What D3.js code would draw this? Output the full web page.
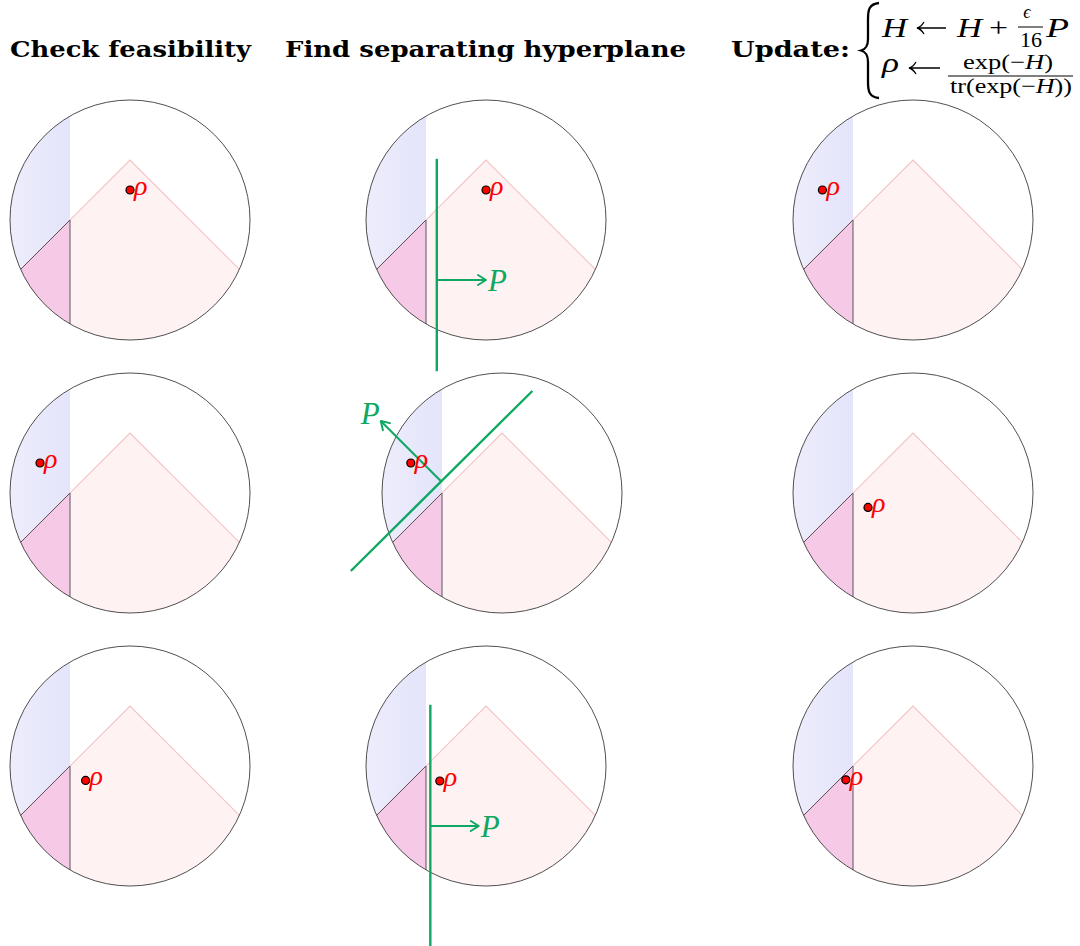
<!DOCTYPE html>
<html>
<head>
<meta charset="utf-8">
<script src="https://cdn.jsdelivr.net/npm/d3@7"></script>
<style>
  html, body { margin: 0; padding: 0; background: #fff; }
  svg { display: block; }
</style>
</head>
<body>
<svg id="chart" width="1080" height="946"></svg>
<script>
// ---------------- DATA ----------------
const titles = ["Check feasibility", "Find separating hyperplane", "Update:"];
// rho position in each panel (unit-disk coordinates), rows x columns
const rhoX = [[0.0, 0.0, -0.755], [-0.75, -0.76, -0.375], [-0.37, -0.385, -0.56]];
const rhoY = [[0.25, 0.25, 0.25], [0.25, 0.25, -0.12], [-0.12, -0.125, -0.115]];
// feasible regions
const blueEdgeX = -0.5;     // blue region: x < -0.5
const coneApexY = 0.5;      // cone: y < 0.5 - |x|
// separating hyperplanes (row, col, line ends, arrow foot & tip, label side)
const hyperplanes = [
  { row: 0, col: 1, from: [-0.41, 0.51], to: [-0.41, -1.26], foot: [-0.41, -0.5], tip: [0.0, -0.5], side: "right" },
  { row: 1, col: 1, from: [-1.26, -0.65], to: [0.253, 0.85], foot: [-0.51, 0.10], tip: [-1.01, 0.60], side: "aboveleft" },
  { row: 2, col: 1, from: [-0.464, 0.51], to: [-0.464, -1.5], foot: [-0.464, -0.5], tip: [-0.06, -0.5], side: "right" }
];

// ---------------- LAYOUT ----------------
const R = 120;
const panelCx = [[130, 486, 913], [130, 502, 913], [130, 486, 913]];
const rowCy = [220, 493, 766];
const green = "#0fa862";
const serif = "'Liberation Serif', 'Times New Roman', serif";

const svg = d3.select("#chart");
const defs = svg.append("defs");
const grad = defs.append("linearGradient").attr("id", "blueGrad")
  .attr("x1", 0).attr("x2", 1).attr("y1", 0).attr("y2", 0);
grad.append("stop").attr("offset", 0).attr("stop-color", "#ededfc");
grad.append("stop").attr("offset", 1).attr("stop-color", "#e4e4fb");

const line = d3.line();

for (let r = 0; r < 3; r++) {
  for (let c = 0; c < 3; c++) {
    const cx = panelCx[r][c], cy = rowCy[r];
    const x = d3.scaleLinear().domain([-1, 1]).range([cx - R, cx + R]);
    const y = d3.scaleLinear().domain([-1, 1]).range([cy + R, cy - R]);
    const P = p => [x(p[0]), y(p[1])];
    const id = `clip${r}${c}`;
    defs.append("clipPath").attr("id", id)
      .append("circle").attr("cx", x(0)).attr("cy", y(0)).attr("r", x(1) - x(0));

    const g = svg.append("g");
    const gc = g.append("g").attr("clip-path", `url(#${id})`);

    // blue region
    gc.append("rect")
      .attr("x", x(-1)).attr("y", y(1))
      .attr("width", x(blueEdgeX) - x(-1)).attr("height", y(-1) - y(1))
      .attr("fill", "url(#blueGrad)");
    // cone region
    const apex = [0, coneApexY];
    const coneL = [-2, coneApexY - 2], coneR = [2, coneApexY - 2];
    gc.append("path").attr("d", line([apex, coneL, coneR].map(P)) + "Z")
      .attr("fill", "#fff2f3");
    // intersection
    const corner = [blueEdgeX, coneApexY + blueEdgeX];
    gc.append("path").attr("d", line([corner, coneL, [blueEdgeX, coneApexY - 2]].map(P)) + "Z")
      .attr("fill", "#f6cae6");
    // cone edges
    gc.append("path").attr("d", line([coneL, apex, coneR].map(P)))
      .attr("fill", "none").attr("stroke", "#f4c2c2").attr("stroke-width", 1.1);
    gc.append("path").attr("d", line([coneL, corner, [blueEdgeX, -2]].map(P)))
      .attr("fill", "none").attr("stroke", "#5b5360").attr("stroke-width", 1);

    // circle outline
    g.append("circle").attr("cx", x(0)).attr("cy", y(0)).attr("r", x(1) - x(0))
      .attr("fill", "none").attr("stroke", "#3c3c3c").attr("stroke-width", 0.9);

    // hyperplane
    hyperplanes.filter(h => h.row === r && h.col === c).forEach(h => {
      g.append("path").attr("d", line([h.from, h.to].map(P)))
        .attr("stroke", green).attr("stroke-width", 2.4).attr("fill", "none");
      const f = P(h.foot), t = P(h.tip);
      g.append("path").attr("d", line([f, t]))
        .attr("stroke", green).attr("stroke-width", 2).attr("fill", "none");
      const dx = t[0] - f[0], dy = t[1] - f[1], L = Math.hypot(dx, dy);
      const ux = dx / L, uy = dy / L, nx = -uy, ny = ux;
      const hl = 8, hw = 5;
      g.append("path").attr("d", line([
        [t[0] - hl * ux + hw * nx, t[1] - hl * uy + hw * ny], t,
        [t[0] - hl * ux - hw * nx, t[1] - hl * uy - hw * ny]
      ])).attr("stroke", green).attr("stroke-width", 2).attr("fill", "none")
        .attr("stroke-linecap", "round").attr("stroke-linejoin", "round");
      const lbl = g.append("text").text("P")
        .attr("font-family", serif).attr("font-style", "italic")
        .attr("font-size", 31).attr("fill", green);
      if (h.side === "right") {
        lbl.attr("x", t[0] + 2).attr("y", t[1] + 11).attr("text-anchor", "start");
      } else {
        lbl.attr("x", t[0] - 1).attr("y", t[1] + 3).attr("text-anchor", "end");
      }
    });

    // rho
    const rp = P([rhoX[r][c], rhoY[r][c]]);
    g.append("circle").attr("cx", rp[0]).attr("cy", rp[1]).attr("r", 4)
      .attr("fill", "#ff0000").attr("stroke", "#000").attr("stroke-width", 1.2);
    g.append("text").text("ρ")
      .attr("x", rp[0] + 4).attr("y", rp[1] + 5)
      .attr("font-family", serif).attr("font-style", "italic")
      .attr("font-size", 28).attr("fill", "#ff0000");
  }
}

// ---------------- TITLES ----------------
const titleX = [10, 285, 731], titleW = [241, 401, 119];
titles.forEach((t, i) => {
  svg.append("text").text(t)
    .attr("x", titleX[i]).attr("y", 57)
    .attr("textLength", titleW[i]).attr("lengthAdjust", "spacingAndGlyphs")
    .attr("font-family", "'DejaVu Serif', serif").attr("font-weight", "bold")
    .attr("font-size", 22).attr("fill", "#000");
});

// brace
svg.append("path")
  .attr("d", "M879,3 C869,4 868,10 868,19 L868,39 C868,46 866,49 861,50.5 C866,52 868,55 868,62 L868,82 C868,91 869,97 879,98")
  .attr("fill", "none").attr("stroke", "#000").attr("stroke-width", 2.3);

const math = (txt, xx, yy, size, italic, anchor, width) => {
  const t = svg.append("text").text(txt)
    .attr("x", xx).attr("y", yy).attr("font-size", size)
    .attr("font-family", serif)
    .attr("font-style", italic ? "italic" : "normal")
    .attr("text-anchor", anchor || "start").attr("fill", "#000");
  if (width) t.attr("textLength", width).attr("lengthAdjust", "spacingAndGlyphs");
  return t;
};
const leftArrow = (x1, x2, yy) => {
  svg.append("path")
    .attr("d", `M${x2},${yy} L${x1 + 1},${yy} M${x1 + 7},${yy - 6} Q${x1 + 4},${yy - 1} ${x1},${yy} Q${x1 + 4},${yy + 1} ${x1 + 7},${yy + 6}`)
    .attr("fill", "none").attr("stroke", "#000").attr("stroke-width", 1.3);
};
const fracText = (parts, xx, yy, size, width) => {
  const t = svg.append("text").attr("x", xx).attr("y", yy).attr("font-size", size)
    .attr("font-family", serif).attr("fill", "#000")
    .attr("textLength", width).attr("lengthAdjust", "spacingAndGlyphs");
  parts.forEach(p => t.append("tspan").text(p[0]).attr("font-style", p[1] ? "italic" : "normal"));
};

// line 1: H ← H + ε/16 P
math("H", 882, 37, 28, true, "start", 25);
leftArrow(917, 946, 28);
math("H", 957, 37, 28, true, "start", 25);
math("+", 989, 37, 28, false, "start", 19);
math("ϵ", 1027, 18, 18, true, "middle");
svg.append("line").attr("x1", 1018).attr("x2", 1043).attr("y1", 27).attr("y2", 27)
  .attr("stroke", "#000").attr("stroke-width", 1);
math("16", 1020, 47, 20, false, "start", 22);
math("P", 1046, 37, 28, true, "start", 23);

// line 2: ρ ← exp(−H) / tr(exp(−H))
math("ρ", 882, 72, 28, true, "start", 17);
leftArrow(909, 940, 68);
fracText([["exp(−", false], ["H", true], [")", false]], 963, 69, 21, 90);
svg.append("line").attr("x1", 948).attr("x2", 1073).attr("y1", 76).attr("y2", 76)
  .attr("stroke", "#000").attr("stroke-width", 1);
fracText([["tr(exp(−", false], ["H", true], ["))", false]], 950, 93, 21, 122);
</script>
</body>
</html>
